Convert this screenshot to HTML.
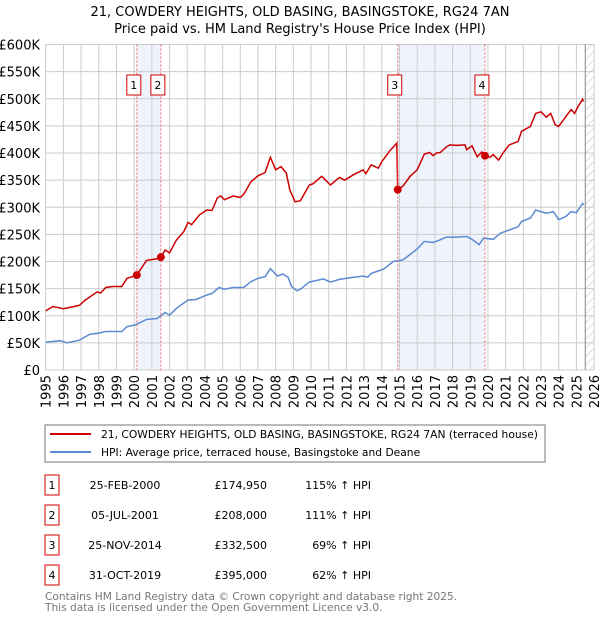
<!DOCTYPE html>
<html><head><meta charset="utf-8"><style>
body{margin:0;background:#fff;width:600px;height:620px;overflow:hidden;font-family:"DejaVu Sans","Liberation Sans",sans-serif;}
svg text{font-family:"DejaVu Sans","Liberation Sans",sans-serif;}
</style></head><body>
<svg id="chart" width="600" height="620" xmlns="http://www.w3.org/2000/svg">
<defs><pattern id="hatch" width="6" height="6" patternUnits="userSpaceOnUse" patternTransform="rotate(45)"><line x1="0" y1="0" x2="0" y2="6" stroke="#bbb" stroke-width="1"/></pattern></defs>
<text x="300" y="16" text-anchor="middle" font-size="13" fill="#000">21, COWDERY HEIGHTS, OLD BASING, BASINGSTOKE, RG24 7AN</text>
<text x="300" y="33" text-anchor="middle" font-size="13" fill="#000">Price paid vs. HM Land Registry's House Price Index (HPI)</text>
<g id="bg"></g><g id="grid"></g><g id="axes"></g><g id="series"></g><g id="marks"></g>
<rect x="45" y="425" width="500" height="37" fill="#fff" stroke="#777"/>
<line x1="50" y1="434" x2="91" y2="434" stroke="#cc0000" stroke-width="2"/>
<text x="101" y="438" font-size="10.7">21, COWDERY HEIGHTS, OLD BASING, BASINGSTOKE, RG24 7AN (terraced house)</text>
<line x1="50" y1="452" x2="91" y2="452" stroke="#5b8bd0" stroke-width="2"/>
<text x="101" y="456" font-size="10.7">HPI: Average price, terraced house, Basingstoke and Deane</text>
<g id="table"></g>
<text x="45" y="600" font-size="10.6" fill="#777">Contains HM Land Registry data © Crown copyright and database right 2025.</text>
<text x="45" y="611" font-size="10.6" fill="#777">This data is licensed under the Open Government Licence v3.0.</text>
</svg>
<script>
const redYears=[1995.0,1995.4,1996.0,1996.9,1997.2,1997.9,1998.1,1998.4,1998.8,1999.3,1999.6,1999.9,2000.15,2000.7,2001.3,2001.51,2001.75,2002.0,2002.4,2002.8,2003.05,2003.25,2003.7,2004.1,2004.4,2004.7,2004.9,2005.1,2005.6,2006.0,2006.2,2006.6,2007.0,2007.4,2007.7,2008.0,2008.3,2008.6,2008.8,2009.1,2009.4,2009.9,2010.1,2010.6,2011.1,2011.6,2011.9,2012.4,2012.95,2013.1,2013.4,2013.8,2014.0,2014.5,2014.85,2014.9,2015.2,2015.6,2016.0,2016.4,2016.7,2016.9,2017.1,2017.3,2017.65,2017.85,2018.2,2018.7,2018.8,2019.1,2019.4,2019.65,2019.83,2020.1,2020.3,2020.6,2020.85,2021.2,2021.7,2021.9,2022.4,2022.7,2023.0,2023.3,2023.55,2023.8,2024.0,2024.4,2024.7,2024.9,2025.1,2025.35,2025.4];
const redValues=[109,117,113,119,128,144,142,152,154,154,169,172,175,202,205,208,221,216,240,255,272,268,286,295,294,317,321,314,321,318,324,347,358,364,392,369,375,363,332,310,312,341,343,357,341,355,350,360,369,362,378,372,384,406,418,333,339,357,369,398,401,395,400,401,411,415,414,415,406,413,393,402,395,392,397,387,400,415,421,440,449,473,476,466,473,452,449,467,480,473,486,499,495];
const hpiYears=[1995.0,1995.8,1996.2,1996.9,1997.5,1998.0,1998.4,1999.3,1999.6,2000.05,2000.7,2001.3,2001.75,2002.0,2002.4,2003.05,2003.5,2004.1,2004.4,2004.8,2005.1,2005.6,2006.2,2006.6,2007.0,2007.4,2007.7,2008.1,2008.4,2008.7,2008.9,2009.2,2009.4,2009.9,2010.7,2011.1,2011.6,2012.4,2012.95,2013.2,2013.4,2014.1,2014.65,2015.2,2016.0,2016.4,2016.9,2017.3,2017.65,2018.2,2018.8,2019.1,2019.5,2019.75,2020.3,2020.7,2021.2,2021.7,2021.9,2022.4,2022.7,2023.3,2023.7,2024.0,2024.4,2024.7,2025.0,2025.35,2025.4];
const hpiValues=[51,54,50,55,66,68,71,71,80,83,93,95,106,101,114,129,130,138,141,152,149,152,152,163,169,172,187,173,177,171,154,146,149,162,168,162,167,171,173,171,178,186,200,203,223,237,235,240,245,245,246,241,231,243,241,252,258,264,274,280,295,289,292,277,283,292,290,307,304];
const saleYears=[2000.15,2001.51,2014.9,2019.83];
const saleValues=[174950,208000,332500,395000];
const saleDates=["25-FEB-2000","05-JUL-2001","25-NOV-2014","31-OCT-2019"];
const salePrices=["£174,950","£208,000","£332,500","£395,000"];
const saleHpi=["115% ↑ HPI","111% ↑ HPI","69% ↑ HPI","62% ↑ HPI"];
const yTicks=[0,50,100,150,200,250,300,350,400,450,500,550,600];
const yTickLabels=["£0","£50K","£100K","£150K","£200K","£250K","£300K","£350K","£400K","£450K","£500K","£550K","£600K"];
const xTicks=[1995,1996,1997,1998,1999,2000,2001,2002,2003,2004,2005,2006,2007,2008,2009,2010,2011,2012,2013,2014,2015,2016,2017,2018,2019,2020,2021,2022,2023,2024,2025,2026];

const NS="http://www.w3.org/2000/svg";
const X=y=>45.7+(y-1995)*17.69;
const Y=v=>370-v*325.5/600;
function mk(parent,tag,attrs){const e=document.createElementNS(NS,tag);for(const k in attrs)e.setAttribute(k,attrs[k]);document.getElementById(parent).appendChild(e);return e;}
let r=mk('bg','rect',{x:X(saleYears[0]),y:Y(600),width:X(saleYears[1])-X(saleYears[0]),height:Y(0)-Y(600),fill:'#eef3fc'});


r=mk('bg','rect',{x:X(saleYears[2]),y:Y(600),width:X(saleYears[3])-X(saleYears[2]),height:Y(0)-Y(600),fill:'#eef3fc'});


r=mk('bg','rect',{x:X(2025.5),y:Y(600),width:X(2026)-X(2025.5),height:Y(0)-Y(600),fill:'url(#hatch)'});


yTicks.forEach((t,i)=>{
 let l=mk('grid','line',{x1:X(1995),x2:X(2026),y1:Y(t),y2:Y(t),stroke:'#cccccc','stroke-width':1});
 
 
 let tx=mk('axes','text',{x:40,y:Y(t)+5,'text-anchor':'end','font-size':13});
 tx.textContent=yTickLabels[i];
 
 
});
xTicks.forEach(t=>{
 let l=mk('grid','line',{x1:X(t),x2:X(t),y1:Y(600),y2:Y(0),stroke:'#cccccc','stroke-width':1});
 
 
 let tx=mk('axes','text',{x:0,y:0,'text-anchor':'end','font-size':13,transform:`translate(${X(t)+5},375) rotate(-90)`});
 tx.textContent=t;
 
 
});
let ln=mk('grid','line',{x1:X(2025.5),x2:X(2025.5),y1:Y(600),y2:Y(0),stroke:'#888','stroke-width':1});


function path(xs,vs){return xs.map((x,i)=>(i?'L':'M')+X(x).toFixed(1)+','+Y(vs[i]).toFixed(1)).join('');}
let p=mk('series','path',{d:path(hpiYears,hpiValues),fill:'none',stroke:'#5b8bd0','stroke-width':1.5});


p=mk('series','path',{d:path(redYears,redValues),fill:'none',stroke:'#cc0000','stroke-width':1.5});


saleYears.forEach((s,i)=>{
 let l=mk('marks','line',{x1:X(s),x2:X(s),y1:Y(600),y2:Y(0),stroke:'#ee6666','stroke-width':1,'stroke-dasharray':'2,2'});
 
 
 let c=mk('marks','circle',{cx:X(s),cy:Y(saleValues[i]/1000),r:4,fill:'#cc0000'});
 
 
 let b=mk('marks','rect',{x:X(s)-10,y:75,width:14,height:20,fill:'#fff',stroke:'#cc0000'});
 
 
 let t=mk('marks','text',{x:X(s)-3,y:89,'text-anchor':'middle','font-size':11});
 t.textContent=i+1;
 
 
 const cy=485+i*30;
 let tb=mk('table','rect',{x:45,y:cy-10,width:14,height:20,fill:'#fff',stroke:'#cc0000'});
 
 
 let tn=mk('table','text',{x:52,y:cy+4,'text-anchor':'middle','font-size':11});
 tn.textContent=i+1;
 
 
 let td=mk('table','text',{x:125,y:cy+4,'text-anchor':'middle','font-size':11});
 td.textContent=saleDates[i];
 
 
 let tp=mk('table','text',{x:267,y:cy+4,'text-anchor':'end','font-size':11});
 tp.textContent=salePrices[i];
 
 
 let th=mk('table','text',{x:371,y:cy+4,'text-anchor':'end','font-size':11});
 th.textContent=saleHpi[i];
 
 
});
</script>
</body></html>
